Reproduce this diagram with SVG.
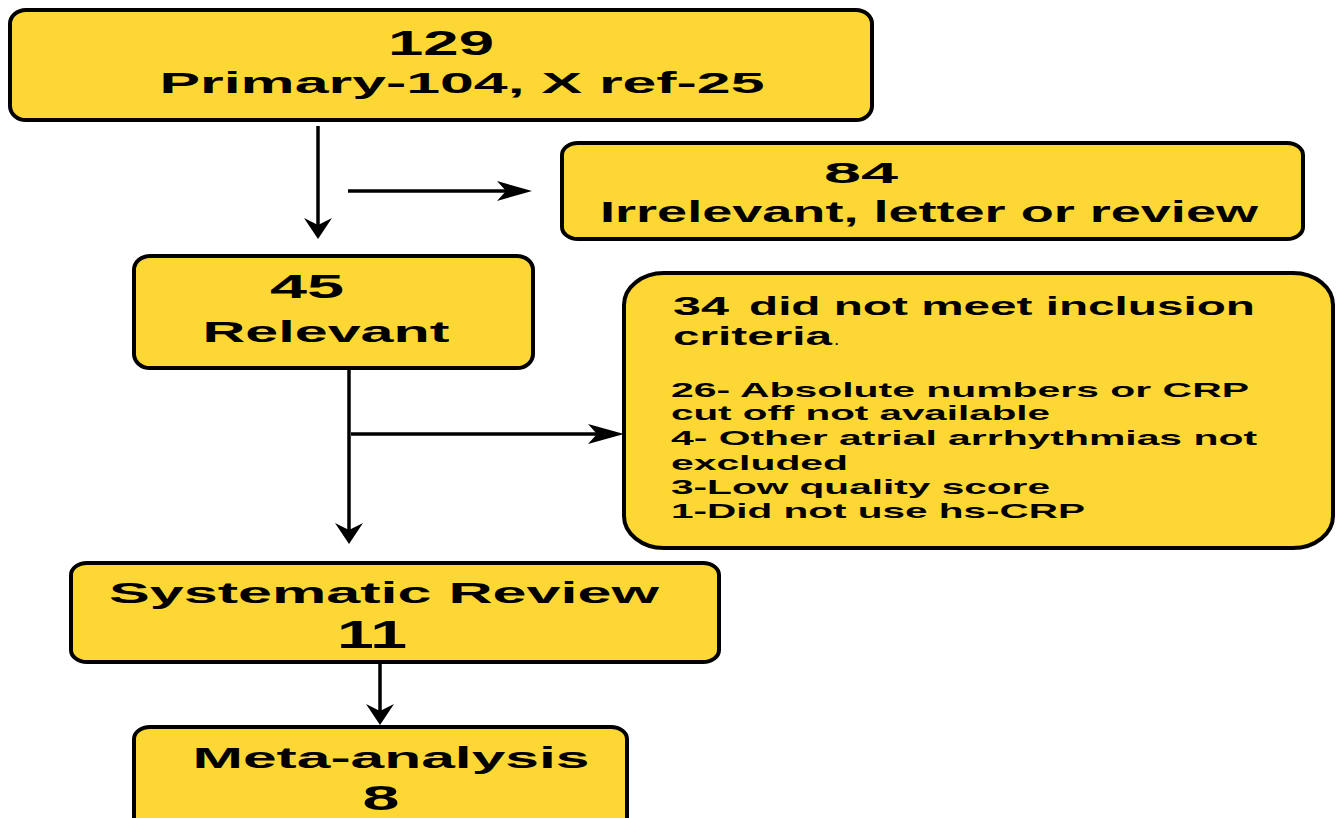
<svg xmlns="http://www.w3.org/2000/svg" width="1336" height="818" viewBox="0 0 1336 818">
<style>
.box{fill:#FDD835;stroke:#000;stroke-width:4}
.t{font-family:"Liberation Sans",Arial,sans-serif;font-weight:bold;fill:#000}
.c{stroke:#000;stroke-width:3.5;fill:none}
.ah{fill:#000}
</style>
<rect width="1336" height="818" fill="#fff"/>
<g id="connectors">
<line class="c" x1="318" y1="126" x2="318" y2="232"/>
<path class="ah" d="M304,218 L318,239 L332,218 L318,225 Z"/>
<line class="c" x1="348" y1="191" x2="525" y2="191"/>
<path class="ah" d="M497,181 L532,191 L497,201 L506,191 Z"/>
<line class="c" x1="349" y1="370" x2="349" y2="537"/>
<path class="ah" d="M335,523 L349,544 L363,523 L349,530 Z"/>
<line class="c" x1="351" y1="434" x2="617" y2="434"/>
<path class="ah" d="M588,424 L624,434 L588,444 L597,434 Z"/>
<line class="c" x1="380" y1="662" x2="380" y2="718"/>
<path class="ah" d="M366,704 L380,725 L394,704 L380,711 Z"/>
</g>
<g id="n129">
<rect class="box" x="10" y="10" width="862" height="110" rx="16" ry="14"/>
<text class="t" x="441" y="55" font-size="35" text-anchor="middle" textLength="106" lengthAdjust="spacingAndGlyphs">129</text>
<text class="t" x="462" y="93" font-size="30" text-anchor="middle" textLength="605" lengthAdjust="spacingAndGlyphs">Primary-104, X ref-25</text>
</g>
<g id="n84">
<rect class="box" x="562" y="143" width="741" height="96" rx="16" ry="12"/>
<text class="t" x="861" y="183" font-size="30" text-anchor="middle" textLength="74" lengthAdjust="spacingAndGlyphs">84</text>
<text class="t" x="929" y="222" font-size="29" text-anchor="middle" textLength="658" lengthAdjust="spacingAndGlyphs">Irrelevant, letter or review</text>
</g>
<g id="n45">
<rect class="box" x="134" y="256" width="399" height="112" rx="16" ry="14"/>
<text class="t" x="307" y="298" font-size="33" text-anchor="middle" textLength="74" lengthAdjust="spacingAndGlyphs">45</text>
<text class="t" x="326" y="342" font-size="30" text-anchor="middle" textLength="247" lengthAdjust="spacingAndGlyphs">Relevant</text>
</g>
<g id="n34">
<rect class="box" x="624" y="273" width="709" height="275" rx="40" ry="32"/>
<text class="t" x="673" y="315" font-size="25" textLength="56" lengthAdjust="spacingAndGlyphs">34</text>
<text class="t" x="749" y="315" font-size="25" textLength="506" lengthAdjust="spacingAndGlyphs">did not meet inclusion</text>
<text class="t" x="673" y="345" font-size="25" textLength="159" lengthAdjust="spacingAndGlyphs">criteria</text>
<text class="t" x="835" y="345" font-size="12" font-weight="normal">.</text>
<text class="t" x="671" y="397" font-size="21" textLength="578" lengthAdjust="spacingAndGlyphs">26- Absolute numbers or CRP</text>
<text class="t" x="671" y="420" font-size="21" textLength="379" lengthAdjust="spacingAndGlyphs">cut off not available</text>
<text class="t" x="671" y="445" font-size="21" textLength="586" lengthAdjust="spacingAndGlyphs">4- Other atrial arrhythmias not</text>
<text class="t" x="671" y="470" font-size="21" textLength="177" lengthAdjust="spacingAndGlyphs">excluded</text>
<text class="t" x="671" y="494" font-size="21" textLength="379" lengthAdjust="spacingAndGlyphs">3-Low quality score</text>
<text class="t" x="671" y="518" font-size="21" textLength="414" lengthAdjust="spacingAndGlyphs">1-Did not use hs-CRP</text>
</g>
<g id="nSR">
<rect class="box" x="71" y="563" width="648" height="99" rx="16" ry="12"/>
<text class="t" x="384" y="603" font-size="29" text-anchor="middle" textLength="550" lengthAdjust="spacingAndGlyphs">Systematic Review</text>
<text class="t" x="372" y="648" font-size="39" text-anchor="middle" textLength="70" lengthAdjust="spacingAndGlyphs">11</text>
</g>
<g id="nMA">
<rect class="box" x="134" y="727" width="493" height="110" rx="16" ry="12"/>
<text class="t" x="391" y="768" font-size="29" text-anchor="middle" textLength="397" lengthAdjust="spacingAndGlyphs">Meta-analysis</text>
<text class="t" x="381" y="810" font-size="35" text-anchor="middle" textLength="37" lengthAdjust="spacingAndGlyphs">8</text>
</g>
</svg>
